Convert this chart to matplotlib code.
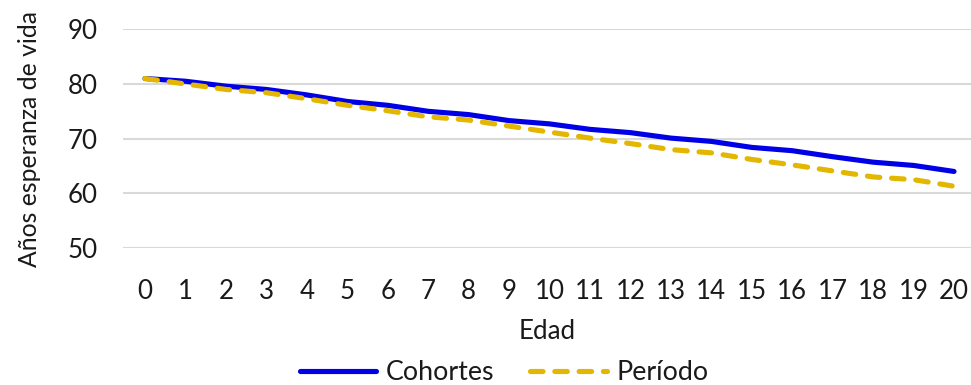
import matplotlib
matplotlib.use("Agg")
import matplotlib.pyplot as plt
from matplotlib.lines import Line2D

plt.rcParams['font.family'] = ['Lato', 'DejaVu Sans']
plt.rcParams['lines.scale_dashes'] = False

edad = list(range(21))
cohortes = [81.0, 80.5, 79.6, 79.0, 78.0, 76.8, 76.1, 75.0, 74.4, 73.3, 72.7, 71.7, 71.1, 70.1, 69.5, 68.4, 67.8, 66.7, 65.7, 65.1, 64.0]
periodo = [81.0, 80.0, 79.0, 78.4, 77.3, 76.1, 75.1, 74.0, 73.4, 72.3, 71.2, 70.1, 69.1, 68.0, 67.4, 66.2, 65.2, 64.1, 63.0, 62.5, 61.3]
yticks = [50, 60, 70, 80, 90]

W, H = 971, 385
fig = plt.figure(figsize=(W/100, H/100), dpi=100)
left, right = 123/W, 971/W
bottom, top = 1 - 248/H, 1 - 29.3/H
ax = fig.add_axes([left, bottom, right-left, top-bottom])

blue = '#0000E6'
gold = '#E3B600'
fs = 18.6
lw = 3.7

ax.plot(edad, cohortes, color=blue, lw=lw, solid_capstyle='round', clip_on=False, zorder=3)
ax.plot(edad, periodo, color=gold, lw=lw, dashes=(9, 8.5), dash_capstyle='round', clip_on=False, zorder=4)

ax.set_xlim(-0.544, 20.42)
ax.set_ylim(50, 90)
ax.set_yticks(yticks)
ax.set_xticks(edad)
ax.set_xticklabels([str(e) for e in edad])
ax.grid(axis='y', color='#D9D9D9', lw=1.5)
ax.set_axisbelow(True)
for s in ax.spines.values():
    s.set_visible(False)
ax.tick_params(axis='both', length=0, labelsize=fs, colors='#1a1a1a')
ax.tick_params(axis='y', pad=18)
ax.tick_params(axis='x', pad=22)
ax.set_xlabel('Edad', fontsize=fs, color='#1a1a1a', labelpad=11)
ax.set_ylabel('Años esperanza de vida', fontsize=17.8, color='#1a1a1a', labelpad=19)

handles = [Line2D([], [], color=blue, lw=lw, solid_capstyle='round'),
           Line2D([], [], color=gold, lw=lw, dashes=(9, 8.5), dash_capstyle='round')]
fig.legend(handles, ['Cohortes', 'Período'], loc='center', bbox_to_anchor=(504/W, 1 - 373/H),
           ncol=2, frameon=False, fontsize=19.3, handlelength=2.85, handletextpad=0.35,
           columnspacing=1.35, labelcolor='#1a1a1a')

fig.savefig('out.png', dpi=100)
